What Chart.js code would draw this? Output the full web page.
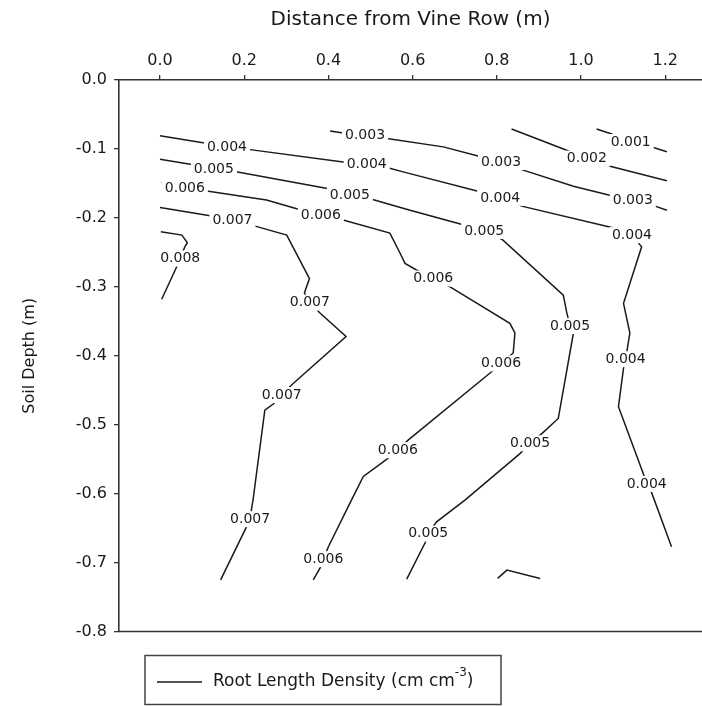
<!DOCTYPE html>
<html>
<head>
<meta charset="utf-8">
<script src="https://cdn.jsdelivr.net/npm/chart.js@4.4.1/dist/chart.umd.min.js"></script>
<style>
  html, body { margin: 0; padding: 0; background: #fff; }
  #wrap { width: 702px; height: 706px; }
</style>
</head>
<body>
<div id="wrap"><canvas id="c"></canvas></div>
<script>
// contour lines: [distance from row (m), soil depth (m)]
const rld001 = [[1.037,-0.071],[1.071,-0.078],[1.118,-0.090],[1.172,-0.098],[1.204,-0.104]];
const rld002 = [[0.835,-0.071],[0.966,-0.102],[1.014,-0.114],[1.069,-0.125],[1.204,-0.146]];
const rld003 = [[0.404,-0.074],[0.435,-0.077],[0.487,-0.081],[0.539,-0.085],[0.673,-0.097],
  [0.760,-0.111],[0.810,-0.119],[0.859,-0.130],[0.982,-0.154],[1.073,-0.168],[1.123,-0.175],
  [1.176,-0.183],[1.204,-0.189]];
const rld004 = [[0.000,-0.081],[0.113,-0.092],[0.159,-0.097],[0.214,-0.101],[0.435,-0.119],
  [0.491,-0.123],[0.539,-0.127],[0.582,-0.134],[0.760,-0.162],[0.808,-0.171],[0.859,-0.183],
  [1.073,-0.214],[1.121,-0.225],[1.144,-0.242],[1.101,-0.324],[1.116,-0.367],[1.106,-0.405],
  [1.101,-0.418],[1.089,-0.474],[1.148,-0.571],[1.156,-0.586],[1.168,-0.599],[1.215,-0.677]];
const rld005 = [[0.000,-0.115],[0.079,-0.123],[0.128,-0.130],[0.181,-0.133],[0.404,-0.158],
  [0.451,-0.167],[0.503,-0.173],[0.594,-0.189],[0.720,-0.210],[0.770,-0.219],[0.812,-0.231],
  [0.958,-0.312],[0.966,-0.337],[0.974,-0.357],[0.982,-0.367],[0.946,-0.491],[0.907,-0.513],
  [0.879,-0.527],[0.855,-0.542],[0.725,-0.609],[0.657,-0.641],[0.637,-0.658],[0.630,-0.671],
  [0.586,-0.724]];
const rld006 = [[0.004,-0.148],[0.012,-0.152],[0.059,-0.157],[0.111,-0.161],[0.253,-0.174],
  [0.337,-0.189],[0.382,-0.197],[0.435,-0.203],[0.546,-0.222],[0.570,-0.251],[0.582,-0.266],
  [0.610,-0.276],[0.649,-0.288],[0.689,-0.300],[0.831,-0.353],[0.843,-0.367],[0.839,-0.396],
  [0.810,-0.411],[0.784,-0.425],[0.590,-0.522],[0.565,-0.537],[0.539,-0.550],[0.483,-0.575],
  [0.455,-0.609],[0.400,-0.677],[0.388,-0.695],[0.380,-0.708],[0.364,-0.725]];
const rld007 = [[0.000,-0.185],[0.119,-0.197],[0.172,-0.203],[0.226,-0.212],[0.301,-0.225],
  [0.355,-0.288],[0.343,-0.309],[0.356,-0.323],[0.380,-0.338],[0.442,-0.372],[0.315,-0.441],
  [0.289,-0.457],[0.269,-0.470],[0.249,-0.479],[0.221,-0.609],[0.218,-0.620],[0.214,-0.637],
  [0.204,-0.650],[0.144,-0.725]];
const rld008 = [[0.002,-0.220],[0.052,-0.225],[0.065,-0.236],[0.059,-0.242],[0.048,-0.259],
  [0.038,-0.273],[0.004,-0.318]];
const rldStray = [[0.802,-0.723],[0.824,-0.711],[0.903,-0.723]];

// contour labels
const labelText = ['0.001','0.002','0.003','0.003','0.003',
  '0.004','0.004','0.004','0.004','0.004','0.004',
  '0.005','0.005','0.005','0.005','0.005','0.005',
  '0.006','0.006','0.006','0.006','0.006','0.006',
  '0.007','0.007','0.007','0.007','0.008'];
const labelX = [1.118,1.014,0.487,0.810,1.123,
  0.159,0.491,0.808,1.121,1.106,1.156,
  0.128,0.451,0.770,0.974,0.879,0.637,
  0.059,0.382,0.649,0.810,0.565,0.388,
  0.172,0.356,0.289,0.214,0.048];
const labelY = [-0.090,-0.114,-0.081,-0.119,-0.175,
  -0.097,-0.123,-0.171,-0.225,-0.405,-0.586,
  -0.130,-0.167,-0.219,-0.357,-0.527,-0.658,
  -0.157,-0.197,-0.288,-0.411,-0.537,-0.695,
  -0.203,-0.323,-0.457,-0.637,-0.259];

const xTicks = [0, 0.2, 0.4, 0.6, 0.8, 1.0, 1.2];
const yTicks = [0, -0.1, -0.2, -0.3, -0.4, -0.5, -0.6, -0.7, -0.8];

const contours = [rld001, rld002, rld003, rld004, rld005, rld006, rld007, rld008, rldStray];
const FONT = 'DejaVu Sans';
const INK = '#1a1a1a';

const datasets = contours.map(c => ({
  data: c.map(p => ({ x: p[0], y: p[1] })),
  showLine: true,
  borderColor: INK,
  borderWidth: 1.5,
  pointRadius: 0,
  tension: 0
}));

const extras = {
  id: 'extras',
  afterDatasetsDraw(chart) {
    const ctx = chart.ctx;
    const xs = chart.scales.x, ys = chart.scales.y;
    ctx.save();
    ctx.font = '14px "' + FONT + '"';
    ctx.textAlign = 'center';
    ctx.textBaseline = 'middle';
    labelText.forEach((t, i) => {
      const px = xs.getPixelForValue(labelX[i]);
      const py = ys.getPixelForValue(labelY[i]);
      const w = ctx.measureText(t).width;
      ctx.fillStyle = '#fff';
      ctx.fillRect(px - w / 2 - 3, py - 8, w + 6, 16);
      ctx.fillStyle = INK;
      ctx.fillText(t, px, py);
    });
    ctx.restore();
  },
  afterDraw(chart) {
    const ctx = chart.ctx;
    const a = chart.chartArea;
    ctx.save();
    // bottom frame line
    ctx.strokeStyle = '#333';
    ctx.lineWidth = 1.6;
    ctx.beginPath();
    ctx.moveTo(a.left, a.bottom);
    ctx.lineTo(a.right, a.bottom);
    ctx.stroke();
    // legend box
    ctx.strokeStyle = '#444';
    ctx.lineWidth = 1.5;
    ctx.strokeRect(145, 655.5, 356, 49);
    ctx.strokeStyle = INK;
    ctx.lineWidth = 1.4;
    ctx.beginPath();
    ctx.moveTo(157, 682);
    ctx.lineTo(202, 682);
    ctx.stroke();
    ctx.fillStyle = INK;
    ctx.textBaseline = 'alphabetic';
    ctx.textAlign = 'left';
    ctx.font = '17px "' + FONT + '"';
    const main = 'Root Length Density (cm cm';
    ctx.fillText(main, 213, 686);
    let x = 213 + ctx.measureText(main).width;
    ctx.font = '12px "' + FONT + '"';
    ctx.fillText('-3', x, 676);
    x += ctx.measureText('-3').width;
    ctx.font = '17px "' + FONT + '"';
    ctx.fillText(')', x, 686);
    ctx.restore();
  }
};

new Chart(document.getElementById('c'), {
  type: 'scatter',
  data: { datasets },
  plugins: [extras],
  options: {
    responsive: true,
    maintainAspectRatio: false,
    animation: false,
    devicePixelRatio: 1,
    layout: { padding: { left: 0, top: 0, right: 0, bottom: 74.5 } },
    plugins: { legend: { display: false }, tooltip: { enabled: false } },
    scales: {
      x: {
        type: 'linear',
        position: 'top',
        min: -0.0974,
        max: 1.2874,
        afterBuildTicks: s => { s.ticks = xTicks.map(v => ({ value: v })); },
        afterFit: s => { s.height = 80; },
        ticks: {
          callback: v => v.toFixed(1),
          font: { family: FONT, size: 16 },
          color: INK,
          padding: 5,
          maxRotation: 0,
          autoSkip: false
        },
        grid: { drawOnChartArea: false, tickLength: 5, color: '#333', lineWidth: 1.3 },
        border: { color: '#333', width: 1.6 },
        title: {
          display: true,
          text: 'Distance from Vine Row (m)',
          font: { family: FONT, size: 20 },
          color: INK,
          padding: { top: 8, bottom: 0 }
        }
      },
      y: {
        type: 'linear',
        min: -0.8,
        max: 0,
        afterBuildTicks: s => { s.ticks = yTicks.map(v => ({ value: v })); },
        afterFit: s => { s.width = 119; },
        ticks: {
          callback: v => v.toFixed(1),
          font: { family: FONT, size: 16 },
          color: INK,
          padding: 7,
          autoSkip: false
        },
        grid: { drawOnChartArea: false, tickLength: 5, color: '#333', lineWidth: 1.3 },
        border: { color: '#333', width: 1.6 },
        title: {
          display: true,
          text: 'Soil Depth (m)',
          font: { family: FONT, size: 16 },
          color: INK,
          padding: { top: 20, bottom: 0 }
        }
      }
    }
  }
});
</script>
</body>
</html>
